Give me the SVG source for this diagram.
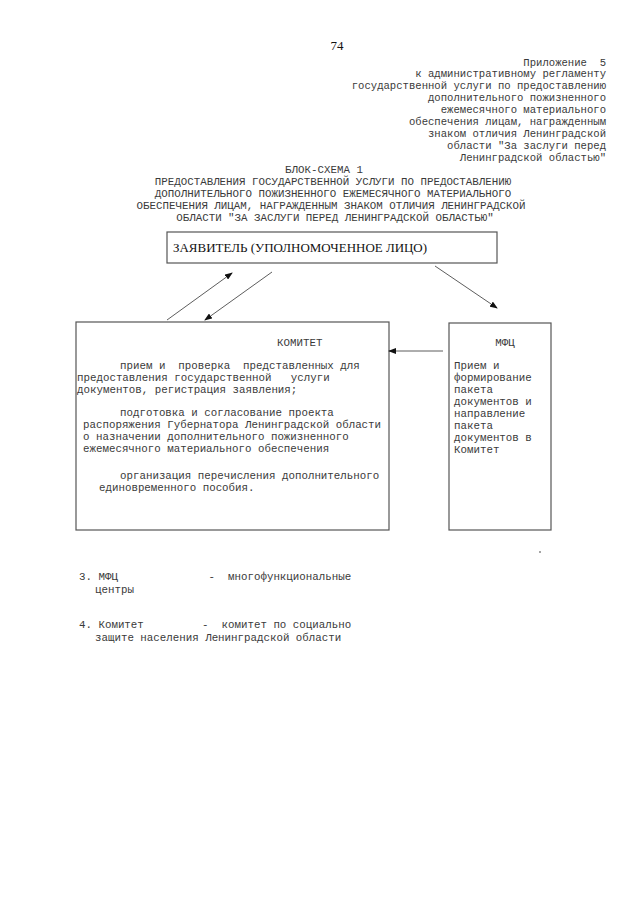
<svg xmlns="http://www.w3.org/2000/svg" width="640" height="905" viewBox="0 0 640 905">
<style>
.m{font-family:"Liberation Mono","DejaVu Sans Mono",monospace;font-size:10.8px;fill:#3a3a3a;white-space:pre}
.h{font-size:10.6px}
.t{font-family:"Liberation Serif","Times New Roman",serif;fill:#111}
.e{text-anchor:end}
.c{text-anchor:middle}
.box{fill:#fff;stroke:#555;stroke-width:1.2}
.ln{stroke:#333;stroke-width:0.8;fill:none}
</style>
<defs>
<marker id="ah" markerWidth="8" markerHeight="6" refX="7" refY="3" orient="auto" markerUnits="userSpaceOnUse">
<path d="M0,0 L8,3 L0,6 z" fill="#111"/>
</marker>
</defs>
<rect width="640" height="905" fill="#fff"/>
<text class="t" x="337" y="50" font-size="13" text-anchor="middle">74</text>
<g id="header">
<text class="m h e" x="606" y="66">Приложение  5</text>
<text class="m h e" x="606" y="77">к административному регламенту</text>
<text class="m h e" x="606" y="89">государственной услуги по предоставлению</text>
<text class="m h e" x="606" y="101">дополнительного пожизненного</text>
<text class="m h e" x="606" y="113">ежемесячного материального</text>
<text class="m h e" x="606" y="125">обеспечения лицам, награжденным</text>
<text class="m h e" x="606" y="137">знаком отличия Ленинградской</text>
<text class="m h e" x="606" y="149">области "За заслуги перед</text>
<text class="m h e" x="606" y="161">Ленинградской областью"</text>
</g>
<g id="title">
<text class="m c" x="324" y="173">БЛОК-СХЕМА 1</text>
<text class="m c" x="333" y="185">ПРЕДОСТАВЛЕНИЯ ГОСУДАРСТВЕННОЙ УСЛУГИ ПО ПРЕДОСТАВЛЕНИЮ</text>
<text class="m c" x="333" y="197">ДОПОЛНИТЕЛЬНОГО ПОЖИЗНЕННОГО ЕЖЕМЕСЯЧНОГО МАТЕРИАЛЬНОГО</text>
<text class="m c" x="331" y="209">ОБЕСПЕЧЕНИЯ ЛИЦАМ, НАГРАЖДЕННЫМ ЗНАКОМ ОТЛИЧИЯ ЛЕНИНГРАДСКОЙ</text>
<text class="m c" x="335" y="221">ОБЛАСТИ "ЗА ЗАСЛУГИ ПЕРЕД ЛЕНИНГРАДСКОЙ ОБЛАСТЬЮ"</text>
</g>
<g id="applicant">
<rect class="box" x="167" y="232" width="330" height="31"/>
<text class="t" x="173" y="252" font-size="13" textLength="254" lengthAdjust="spacingAndGlyphs">ЗАЯВИТЕЛЬ (УПОЛНОМОЧЕННОЕ ЛИЦО)</text>
</g>
<g id="committee">
<rect class="box" x="76" y="322" width="313" height="208"/>
<text class="m" x="277" y="346">КОМИТЕТ</text>
<text class="m" x="120" y="369">прием и  проверка  представленных для</text>
<text class="m" x="77" y="381">предоставления государственной   услуги</text>
<text class="m" x="77" y="393">документов, регистрация заявления;</text>
<text class="m" x="120" y="416">подготовка и согласование проекта</text>
<text class="m" x="83" y="428">распоряжения Губернатора Ленинградской области</text>
<text class="m" x="83" y="440">о назначении дополнительного пожизненного</text>
<text class="m" x="83" y="452">ежемесячного материального обеспечения</text>
<text class="m" x="120" y="479">организация перечисления дополнительного</text>
<text class="m" x="99" y="491">единовременного пособия.</text>
</g>
<g id="mfc">
<rect class="box" x="449" y="323" width="102" height="207"/>
<text class="m c" x="505" y="346">МФЦ</text>
<text class="m" x="454" y="369">Прием и</text>
<text class="m" x="454" y="381">формирование</text>
<text class="m" x="454" y="393">пакета</text>
<text class="m" x="454" y="405">документов и</text>
<text class="m" x="454" y="417">направление</text>
<text class="m" x="454" y="429">пакета</text>
<text class="m" x="454" y="441">документов в</text>
<text class="m" x="454" y="453">Комитет</text>
</g>
<g id="connectors">
<line class="ln" x1="167" y1="320" x2="232" y2="273" marker-end="url(#ah)"/>
<line class="ln" x1="272" y1="272" x2="205" y2="320" marker-end="url(#ah)"/>
<line class="ln" x1="435" y1="266" x2="497" y2="308" marker-end="url(#ah)"/>
<line class="ln" x1="443" y1="351" x2="389" y2="351" marker-end="url(#ah)" stroke="#666"/>
</g>
<g id="notes">
<circle cx="540" cy="552" r="0.8" fill="#333"/>
<text class="m" x="79" y="580">3. МФЦ              -  многофункциональные</text>
<text class="m" x="95" y="593">центры</text>
<text class="m" x="79" y="628">4. Комитет         -  комитет по социально</text>
<text class="m" x="95" y="641">защите населения Ленинградской области</text>
</g>
</svg>
